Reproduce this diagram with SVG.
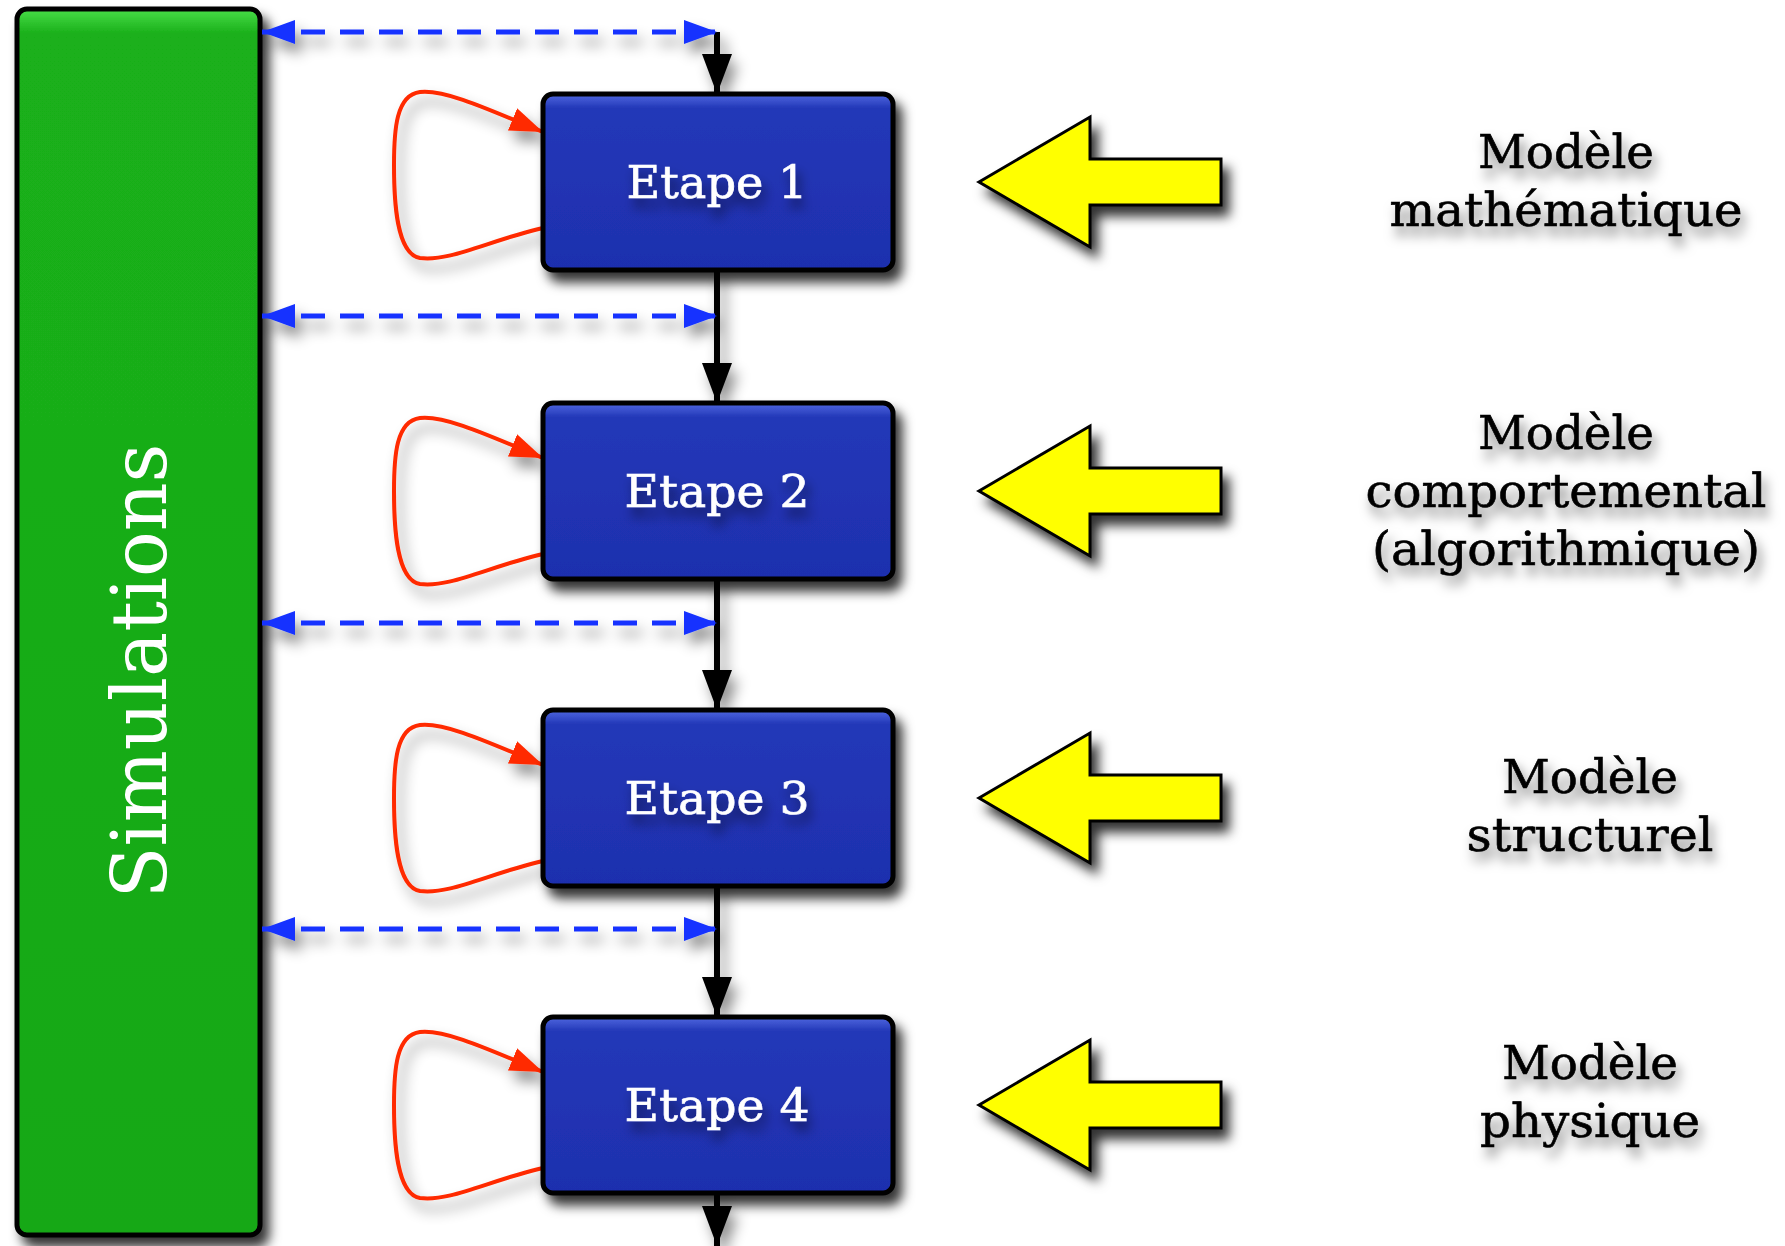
<svg xmlns="http://www.w3.org/2000/svg" width="1785" height="1246" viewBox="0 0 1785 1246">
  <defs>
    <style>
      .box { stroke: #000; stroke-width: 5; fill: url(#blueFill); filter: url(#shadow); }
      .sim { stroke: #000; stroke-width: 5; fill: url(#greenFill); filter: url(#shadow); }
      .yarrow { fill: #ffff00; stroke: #000; stroke-width: 3; stroke-linejoin: miter; filter: url(#shadow); }
      .flow { stroke: #000; stroke-width: 6; fill: none; marker-end: url(#blackHead); }
      .sync { stroke: #1432ff; stroke-width: 5; fill: none; stroke-dasharray: 24 15; marker-start: url(#blueHead); marker-end: url(#blueHead); }
      .loop { stroke: #ff2a00; stroke-width: 4; fill: none; marker-end: url(#redHead); }
      .step { font-family: "DejaVu Serif", "Liberation Serif", serif; font-size: 44px; fill: #fff; stroke: #fff; stroke-width: 0.6; text-anchor: middle; filter: url(#textShadow); }
      .label { font-family: "DejaVu Serif", "Liberation Serif", serif; font-size: 46px; fill: #000; stroke: #000; stroke-width: 0.6; text-anchor: middle; filter: url(#textShadow); }
      .simtext { font-family: "DejaVu Serif", "Liberation Serif", serif; font-size: 76px; fill: #fff; text-anchor: middle; }
    </style>
    <linearGradient id="blueFill" x1="0" y1="0" x2="0" y2="1">
      <stop offset="0" stop-color="#5068e0"/>
      <stop offset="0.08" stop-color="#2338b8"/>
      <stop offset="1" stop-color="#1e2fae"/>
    </linearGradient>
    <linearGradient id="greenFill" x1="0" y1="0" x2="0" y2="1">
      <stop offset="0" stop-color="#48dd48"/>
      <stop offset="0.02" stop-color="#1ab01a"/>
      <stop offset="1" stop-color="#17a817"/>
    </linearGradient>
    <filter id="shadow" x="-20%" y="-20%" width="150%" height="150%">
      <feDropShadow dx="7" dy="10" stdDeviation="6" flood-color="#000" flood-opacity="0.8"/>
    </filter>
    <filter id="lineShadow" filterUnits="userSpaceOnUse" x="0" y="0" width="1785" height="1246">
      <feDropShadow dx="6" dy="10" stdDeviation="7" flood-color="#000" flood-opacity="0.45"/>
    </filter>
    <filter id="textShadow" x="-20%" y="-30%" width="140%" height="170%">
      <feDropShadow dx="4" dy="9" stdDeviation="6" flood-color="#000" flood-opacity="0.5"/>
    </filter>
    <marker id="blackHead" markerUnits="userSpaceOnUse" markerWidth="40" markerHeight="30" refX="40" refY="15" orient="auto">
      <path d="M0,0 L40,15 L0,30 z" fill="#000"/>
    </marker>
    <marker id="blueHead" markerUnits="userSpaceOnUse" markerWidth="33" markerHeight="24" refX="33" refY="12" orient="auto-start-reverse">
      <path d="M0,0 L33,12 L0,24 z" fill="#1432ff"/>
    </marker>
    <marker id="redHead" markerUnits="userSpaceOnUse" markerWidth="33" markerHeight="24" refX="33" refY="12" orient="auto">
      <path d="M0,0 L33,12 L0,24 z" fill="#ff2a00"/>
    </marker>
  </defs>

  <!-- simulation column -->
  <g id="simulations">
    <rect class="sim" x="17" y="9" width="243" height="1226" rx="10"/>
    <text class="simtext" transform="translate(166,671) rotate(-90)" textLength="455" lengthAdjust="spacingAndGlyphs">Simulations</text>
  </g>

  <!-- connectors -->
  <g id="connectors" filter="url(#lineShadow)">
    <path class="flow" d="M717,32 L717,94"/>
    <path class="flow" d="M717,270 L717,403"/>
    <path class="flow" d="M717,579 L717,710"/>
    <path class="flow" d="M717,886 L717,1017"/>
    <path class="flow" d="M717,1193 L717,1246"/>

    <path class="sync" d="M262,32 L717,32"/>
    <path class="sync" d="M262,316 L717,316"/>
    <path class="sync" d="M262,623 L717,623"/>
    <path class="sync" d="M262,929 L717,929"/>

    <path class="loop" d="M543,228 C490,240 450,262 420,258 C396,254 394,200 394,165 C394,130 396,95 420,92 C445,89 490,110 543,132"/>
    <path class="loop" d="M543,554 C490,566 450,588 420,584 C396,580 394,526 394,491 C394,456 396,421 420,418 C445,415 490,436 543,458"/>
    <path class="loop" d="M543,861 C490,873 450,895 420,891 C396,887 394,833 394,798 C394,763 396,728 420,725 C445,722 490,743 543,765"/>
    <path class="loop" d="M543,1168 C490,1180 450,1202 420,1198 C396,1194 394,1140 394,1105 C394,1070 396,1035 420,1032 C445,1029 490,1050 543,1072"/>
  </g>

  <!-- design steps -->
  <g id="etape1">
    <rect class="box" x="543" y="94" width="350" height="176" rx="10"/>
    <text class="step" x="717" y="198" textLength="181" lengthAdjust="spacingAndGlyphs">Etape 1</text>
  </g>
  <g id="etape2">
    <rect class="box" x="543" y="403" width="350" height="176" rx="10"/>
    <text class="step" x="717" y="507" textLength="185" lengthAdjust="spacingAndGlyphs">Etape 2</text>
  </g>
  <g id="etape3">
    <rect class="box" x="543" y="710" width="350" height="176" rx="10"/>
    <text class="step" x="717" y="814" textLength="185" lengthAdjust="spacingAndGlyphs">Etape 3</text>
  </g>
  <g id="etape4">
    <rect class="box" x="543" y="1017" width="350" height="176" rx="10"/>
    <text class="step" x="717" y="1121" textLength="185" lengthAdjust="spacingAndGlyphs">Etape 4</text>
  </g>

  <!-- model inputs -->
  <g id="input1">
    <polygon class="yarrow" points="979,182 1090,117 1090,159 1221,159 1221,205 1090,205 1090,247"/>
  </g>
  <g id="input2">
    <polygon class="yarrow" points="979,491 1090,426 1090,468 1221,468 1221,514 1090,514 1090,556"/>
  </g>
  <g id="input3">
    <polygon class="yarrow" points="979,798 1090,733 1090,775 1221,775 1221,821 1090,821 1090,863"/>
  </g>
  <g id="input4">
    <polygon class="yarrow" points="979,1105 1090,1040 1090,1082 1221,1082 1221,1128 1090,1128 1090,1170"/>
  </g>

  <!-- model labels -->
  <g id="label1">
    <text class="label" x="1566" y="168" textLength="176" lengthAdjust="spacingAndGlyphs">Modèle</text>
    <text class="label" x="1566" y="226" textLength="353" lengthAdjust="spacingAndGlyphs">mathématique</text>
  </g>
  <g id="label2">
    <text class="label" x="1566" y="449" textLength="176" lengthAdjust="spacingAndGlyphs">Modèle</text>
    <text class="label" x="1566" y="507" textLength="401" lengthAdjust="spacingAndGlyphs">comportemental</text>
    <text class="label" x="1566" y="565" textLength="388" lengthAdjust="spacingAndGlyphs">(algorithmique)</text>
  </g>
  <g id="label3">
    <text class="label" x="1590" y="793" textLength="176" lengthAdjust="spacingAndGlyphs">Modèle</text>
    <text class="label" x="1590" y="851" textLength="247" lengthAdjust="spacingAndGlyphs">structurel</text>
  </g>
  <g id="label4">
    <text class="label" x="1590" y="1079" textLength="176" lengthAdjust="spacingAndGlyphs">Modèle</text>
    <text class="label" x="1590" y="1137" textLength="220" lengthAdjust="spacingAndGlyphs">physique</text>
  </g>
</svg>
